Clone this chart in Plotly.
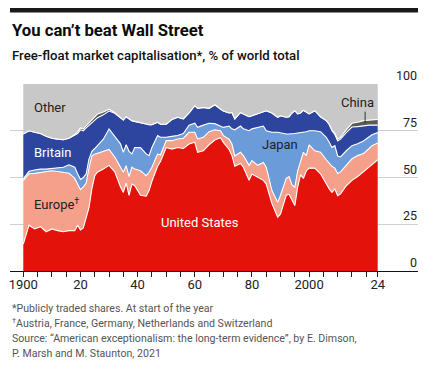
import plotly.graph_objects as go

years = [1900, 1902, 1904, 1906, 1908, 1910, 1912, 1914, 1916, 1918,
         1919, 1920, 1921, 1922, 1923, 1924, 1925, 1926, 1928, 1930,
         1932, 1934, 1935, 1936, 1937, 1938, 1939, 1941, 1943, 1944,
         1945, 1947, 1948, 1950, 1952, 1954, 1956, 1958, 1960, 1961,
         1963, 1965, 1967, 1969, 1970, 1972, 1973, 1974, 1976, 1977,
         1979, 1980, 1982, 1984, 1985, 1987, 1989, 1990, 1992, 1993,
         1994, 1995, 1996, 1997, 1998, 1999, 2000, 2002, 2004, 2006,
         2007, 2008, 2009, 2010, 2011, 2013, 2015, 2017, 2019, 2021,
         2022, 2024]

united_states = [14.4, 24.5, 22.5, 23.7, 21.0, 22.5, 21.6, 21.0, 21.6, 21.5,
                 24.5, 22.0, 23.0, 28.0, 34.0, 44.0, 51.0, 53.0, 54.5, 56.5,
                 53.0, 45.0, 42.0, 47.0, 40.5, 46.5, 45.6, 40.5, 40.0, 43.0,
                 48.0, 56.0, 58.5, 66.0, 65.2, 66.0, 65.5, 67.9, 68.8, 63.5,
                 64.3, 67.5, 70.0, 71.3, 68.8, 65.0, 61.7, 56.0, 57.5, 55.5,
                 48.5, 51.9, 50.0, 48.5, 46.5, 36.0, 28.7, 30.5, 40.5, 41.0,
                 38.0, 35.0, 44.8, 51.5, 49.5, 53.5, 55.0, 55.0, 52.0, 46.5,
                 44.0, 42.0, 43.9, 40.3, 41.2, 45.6, 48.5, 50.5, 53.0, 56.0,
                 57.2, 59.5]

europe = [33.9, 27.5, 29.7, 28.9, 32.0, 31.1, 31.6, 31.8, 30.7, 28.0,
          21.5, 21.5, 22.0, 19.0, 21.0, 17.5, 11.5, 10.0, 9.8, 8.5,
          8.0, 10.0, 10.8, 9.3, 10.0, 9.0, 8.9, 13.1, 11.0, 9.8,
          7.5, 6.6, 3.5, 3.7, 4.5, 4.6, 5.5, 6.3, 5.4, 7.1,
          7.2, 7.0, 5.5, 3.7, 3.6, 5.5, 6.2, 5.5, 6.0, 6.2,
          8.0, 7.1, 6.5, 9.5, 9.0, 7.0, 8.0, 10.0, 9.0, 9.5,
          8.0, 9.8, 8.8, 7.0, 14.0, 8.2, 12.5, 9.3, 11.5, 13.0,
          13.5, 14.0, 11.1, 11.9, 11.8, 10.9, 11.5, 11.2, 9.8, 9.5,
          9.8, 9.0]

japan = [1.0, 1.3, 1.8, 1.9, 1.5, 1.2, 1.8, 2.7, 4.5, 6.0,
         6.0, 5.5, 5.0, 5.0, 5.0, 2.5, 3.0, 4.0, 6.2, 11.0,
         11.0, 13.0, 10.7, 11.2, 13.5, 7.1, 11.5, 12.4, 11.6, 8.9,
         10.5, 9.8, 9.5, 1.8, 2.3, 1.9, 2.5, 3.8, 4.8, 6.2,
         6.5, 4.5, 3.3, 2.5, 4.4, 7.0, 8.1, 14.0, 14.0, 14.3,
         18.5, 17.0, 20.3, 19.5, 19.5, 31.2, 37.5, 33.3, 23.8, 22.8,
         27.3, 28.7, 20.2, 15.5, 10.7, 12.8, 7.5, 10.7, 11.0, 12.0,
         11.5, 10.1, 12.0, 9.3, 8.0, 7.8, 7.0, 6.3, 6.7, 6.5,
         5.8, 5.5]

britain = [24.0, 21.7, 20.2, 19.0, 17.5, 16.2, 15.5, 14.7, 14.2, 17.0,
           21.5, 26.5, 25.0, 24.5, 18.0, 15.5, 15.0, 15.0, 13.0, 9.5,
           12.3, 14.0, 17.2, 15.0, 17.5, 17.8, 14.0, 13.5, 16.0, 16.6,
           12.3, 7.1, 7.0, 7.0, 9.0, 9.7, 7.8, 6.5, 9.4, 10.2,
           9.5, 8.0, 10.1, 9.1, 8.7, 7.0, 8.8, 5.8, 7.3, 8.0,
           7.5, 7.0, 7.2, 7.5, 10.7, 10.3, 8.0, 9.2, 8.9, 9.2,
           11.2, 12.2, 10.2, 10.5, 11.8, 10.5, 9.0, 10.7, 8.0, 8.9,
           9.5, 8.9, 6.0, 8.0, 9.5, 9.7, 10.0, 9.2, 8.2, 6.0,
           5.2, 4.0]

china = [0, 0, 0, 0, 0, 0, 0, 0, 0, 0.5,
         1.0, 1.0, 1.0, 1.0, 1.0, 1.5, 2.0, 2.0, 1.5, 1.0,
         0.3, 0, 0, 0, 0, 0, 0, 0, 0, 0,
         0, 0, 0, 0, 0, 0, 0, 0, 0, 0,
         0, 0, 0, 0, 0, 0, 0, 0, 0, 0,
         0, 0, 0, 0, 0, 0, 0, 0, 0, 0,
         0, 0, 0, 0, 0, 0, 0, 0, 0, 0,
         0, 0.5, 0.6, 0.9, 1.0, 1.5, 2.0, 2.3, 2.7, 2.7,
         2.8, 3.0]

other = [26.7, 25.0, 25.8, 26.5, 28.0, 29.0, 29.5, 29.8, 29.0, 27.0,
         25.5, 23.5, 24.0, 22.5, 21.0, 19.0, 17.5, 16.0, 15.0, 13.5,
         15.4, 18.0, 19.3, 17.5, 18.5, 19.6, 20.0, 20.5, 21.4, 21.7,
         21.7, 20.5, 21.5, 21.5, 19.0, 17.8, 18.7, 15.5, 11.6, 13.0,
         12.5, 13.0, 11.1, 13.4, 14.5, 15.5, 15.2, 18.7, 15.2, 16.0,
         17.5, 17.0, 16.0, 15.0, 14.3, 15.5, 17.8, 17.0, 17.8, 17.5,
         15.5, 14.3, 16.0, 15.5, 14.0, 15.0, 16.0, 14.3, 17.5, 19.6,
         21.5, 24.5, 26.4, 29.6, 28.5, 24.5, 21.0, 20.5, 19.6, 19.3,
         19.2, 19.0]

y_ticks = [0, 25, 50, 75, 100]
x_tick_years = list(range(1900, 2021, 5)) + [2024]
x_label_map = {1900: "1900", 1920: "20", 1940: "40", 1960: "60",
               1980: "80", 2000: "2000", 2024: "24"}

FONT = "Roboto, sans-serif"

series = [
    ("United States", united_states, "#E3120B"),
    ("Europe", europe, "#F5A08A"),
    ("Japan", japan, "#6B9BD8"),
    ("Britain", britain, "#2E45A0"),
    ("China", china, "#5A5A5A"),
    ("Other", other, "#C8C8C8"),
]

fig = go.Figure()
for name, vals, col in series:
    fig.add_trace(go.Scatter(
        x=years, y=vals, name=name, mode="lines", stackgroup="one",
        line=dict(color="white", width=0 if name == "Other" else 1.1),
        fillcolor=col, hoverinfo="skip", showlegend=False))

# The page body keeps its default 8px margin, so the figure is sized
# to fill the rest of the 428x369 window exactly.
fig.update_layout(
    width=412, height=353,
    margin=dict(l=2, r=2, t=76, b=90, autoexpand=False),
    paper_bgcolor="white", plot_bgcolor="white",
    font=dict(family=FONT, size=13, color="#222"),
    xaxis=dict(range=[1895.35, 2038.1], tickmode="array",
               tickvals=x_tick_years,
               ticktext=[x_label_map.get(y, "") for y in x_tick_years],
               ticks="outside", ticklen=5, tickwidth=1, tickcolor="#222",
               ticklabelstandoff=-4,
               showline=True, linecolor="#111", linewidth=1.3,
               showgrid=False, zeroline=False, automargin=False,
               tickfont=dict(size=13, color="#222")),
    yaxis=dict(range=[0, 100], tickvals=y_ticks, showticklabels=False,
               ticks="", showgrid=True, gridcolor="#CFCFCF", gridwidth=1,
               zeroline=False, showline=False, automargin=False),
)

def py(px):
    # screen pixel row -> paper coordinate (plot spans rows 84..271)
    return 1 + (84 - px) / 187.0

ann = []
ann.append(dict(text="<b>You can’t beat Wall Street</b>", x=0, y=py(19.5),
                xref="paper", yref="paper", xanchor="left", yanchor="top",
                showarrow=False, font=dict(size=16.7, color="#0C0C0C")))
ann.append(dict(text="Free-float market capitalisation*, % of world total",
                x=0, y=py(46), xref="paper", yref="paper", xanchor="left",
                yanchor="top", showarrow=False,
                font=dict(size=13.2, color="#111", weight=500)))
notes = [
    ("*Publicly traded shares. At start of the year", 308),
    ("<sup>†</sup>Austria, France, Germany, Netherlands and Switzerland", 323),
    ("Source: “American exceptionalism: the long-term evidence”, by E. Dimson,", 338),
    ("P. Marsh and M. Staunton, 2021", 353),
]
for t, ypx in notes:
    ann.append(dict(text=t, x=0, y=py(ypx), xref="paper", yref="paper",
                    xanchor="left", yanchor="middle", showarrow=False,
                    font=dict(size=10.6, color="#555")))

for v in y_ticks:
    ann.append(dict(text=str(v), x=1, y=v, xref="paper", yref="y",
                    xanchor="right", yanchor="bottom", showarrow=False,
                    borderpad=0, yshift=0,
                    font=dict(size=12.5, color="#222")))

labels = [
    ("Other", 1903.0, 87.2, "#222", "left"),
    ("Britain", 1903.0, 63.3, "white", "left"),
    ("Europe<sup>†</sup>", 1903.0, 35.8, "#222", "left"),
    ("United States", 1961.8, 25.8, "white", "center"),
    ("Japan", 1989.8, 67.9, "#222", "center"),
    ("China", 2016.8, 90.0, "#222", "center"),
]
for t, x, y, c, xa in labels:
    ann.append(dict(text=t, x=x, y=y, xref="x", yref="y", xanchor=xa,
                    yanchor="middle", showarrow=False,
                    font=dict(size=13, color=c)))
fig.update_layout(annotations=ann)

fig.add_shape(type="rect", xref="paper", yref="paper", x0=0, x1=1,
              y0=py(12.5), y1=py(8), fillcolor="#1A1A1A", line=dict(width=0))
fig.add_shape(type="line", xref="x", yref="y", x0=2019.6, x1=2019.6,
              y0=85.2, y1=79.0, line=dict(color="#333", width=1))

fig.write_html("out.html", config={"displayModeBar": False})
